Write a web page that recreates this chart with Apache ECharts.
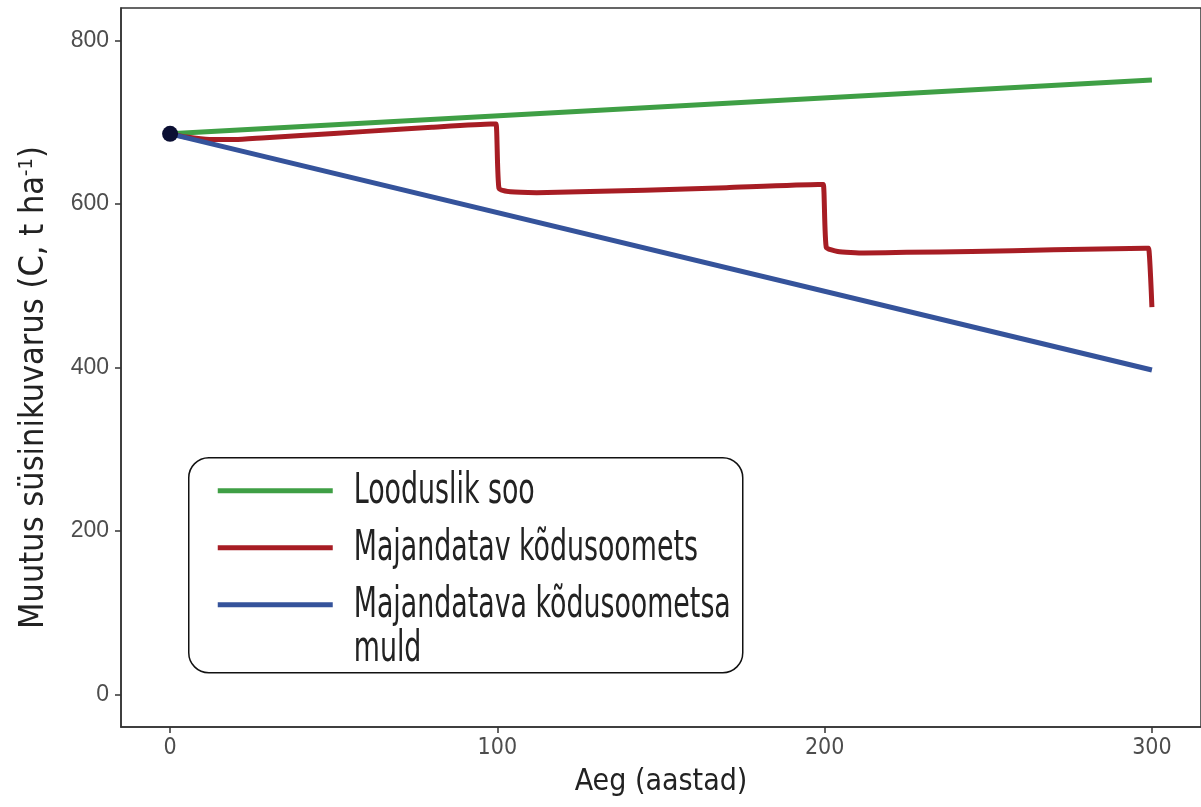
<!DOCTYPE html>
<html>
<head>
<meta charset="utf-8">
<script src="https://cdn.jsdelivr.net/npm/echarts@6/dist/echarts.min.js"></script>
<style>
  html, body { margin: 0; padding: 0; background: #fff; }
  #chart { width: 1201px; height: 807px; }
</style>
</head>
<body>
<div id="chart"></div>
<script>
// series names
const seriesNames = ['Looduslik soo', 'Majandatav kõdusoomets', 'Majandatava kõdusoometsa muld'];
const seriesColors = ['#3f9f45', '#a71d24', '#35539b'];

// natural bog: straight rise
const naturalYears = [0, 300];
const naturalValues = [686, 752];

// managed drained forest (with harvests at 100, 200, 300)
const forestYears = [0, 5, 12, 20, 28, 40, 60, 80, 98, 99.6, 100.5, 104, 112, 125, 145, 170, 198, 199.6, 200.5, 204, 212, 225, 245, 270, 298, 299, 300];
const forestValues = [686, 682, 679, 679, 681, 684, 689, 694, 698, 698, 619, 615, 614, 615, 617, 620, 624, 624, 547, 542, 540, 541, 542, 544, 546, 546, 474];

// soil of managed forest: straight decline
const soilYears = [0, 300];
const soilValues = [686, 397];

// starting point
const startPoint = [0, 686];

const xTicks = [0, 100, 200, 300];
const yTicks = [0, 200, 400, 600, 800];

const condensed = "'Liberation Sans Narrow', 'DejaVu Sans Condensed', 'Roboto Condensed', sans-serif";

function pairs(xs, ys) {
    return xs.map((x, i) => [x, ys[i]]);
}

const chart = echarts.init(document.getElementById('chart'));

// legend text style (narrowed to match the condensed face of the original)
const legendText = (text, y) => ({
    type: 'text', x: 165, y: y, scaleX: 0.71,
    style: { text: text, fontFamily: condensed, fontSize: 42, fill: '#222', verticalAlign: 'middle' }
});

const option = {
    animation: false,
    backgroundColor: '#fff',
    grid: {
        left: 121,
        top: 8,
        right: -2,
        bottom: 80,
        show: true,
        borderColor: '#333',
        borderWidth: 1.5
    },
    xAxis: {
        type: 'value',
        min: -15,
        max: 315,
        interval: 100,
        name: 'Aeg (aastad)',
        nameLocation: 'middle',
        nameGap: 40,
        nameTextStyle: { fontFamily: condensed, fontSize: 30, color: '#222' },
        axisLine: { show: true, onZero: false, lineStyle: { color: '#333', width: 1.5 } },
        axisTick: { show: true, length: 6, lineStyle: { color: '#333', width: 1.5 },
            customValues: xTicks },
        axisLabel: { margin: 10, fontSize: 23, color: '#4d4d4d', fontFamily: condensed,
            customValues: xTicks },
        splitLine: { show: false }
    },
    yAxis: {
        type: 'value',
        min: -40,
        max: 840,
        name: '{a|Muutus süsinikuvarus (C, t ha}{s|-1}{a|)}',
        nameLocation: 'middle',
        nameGap: 70,
        nameTextStyle: {
            padding: [0, 40, 0, 0],
            rich: {
                a: { fontFamily: condensed, fontSize: 34, color: '#222' },
                s: { fontFamily: condensed, fontSize: 20, color: '#222', verticalAlign: 'top', padding: [0, 0, 14, 0] }
            }
        },
        axisLine: { show: true, onZero: false, lineStyle: { color: '#333', width: 1.5 } },
        axisTick: { show: true, length: 6, lineStyle: { color: '#333', width: 1.5 },
            customValues: yTicks },
        axisLabel: { margin: 12, fontSize: 23, color: '#4d4d4d', fontFamily: "'Liberation Sans', Arial, sans-serif",
            customValues: yTicks },
        splitLine: { show: false }
    },
    series: [
        {
            name: seriesNames[0],
            type: 'line',
            data: pairs(naturalYears, naturalValues),
            showSymbol: false,
            lineStyle: { color: seriesColors[0], width: 5 },
            itemStyle: { color: seriesColors[0] }
        },
        {
            name: seriesNames[1],
            type: 'line',
            data: pairs(forestYears, forestValues),
            showSymbol: false,
            smooth: 0.15,
            lineStyle: { color: seriesColors[1], width: 5, join: 'miter' },
            itemStyle: { color: seriesColors[1] }
        },
        {
            name: seriesNames[2],
            type: 'line',
            data: pairs(soilYears, soilValues),
            showSymbol: false,
            lineStyle: { color: seriesColors[2], width: 5 },
            itemStyle: { color: seriesColors[2] }
        },
        {
            type: 'scatter',
            data: [startPoint],
            symbolSize: 16,
            itemStyle: { color: '#0b0f33', opacity: 1 },
            z: 5
        }
    ],
    graphic: [
        {
            type: 'group',
            left: 188,
            top: 457,
            children: [
                { type: 'rect', shape: { x: 0, y: 0, width: 554, height: 215, r: 20 },
                  style: { fill: '#fff', stroke: '#111', lineWidth: 1.5 } },
                { type: 'line', shape: { x1: 29, y1: 33, x2: 144, y2: 33 },
                  style: { stroke: seriesColors[0], lineWidth: 5 } },
                { type: 'line', shape: { x1: 29, y1: 90, x2: 144, y2: 90 },
                  style: { stroke: seriesColors[1], lineWidth: 5 } },
                { type: 'line', shape: { x1: 29, y1: 147, x2: 144, y2: 147 },
                  style: { stroke: seriesColors[2], lineWidth: 5 } },
                legendText(seriesNames[0], 34),
                legendText(seriesNames[1], 91),
                legendText('Majandatava kõdusoometsa', 148),
                legendText('muld', 192)
            ]
        }
    ]
};

chart.setOption(option);
</script>
</body>
</html>
